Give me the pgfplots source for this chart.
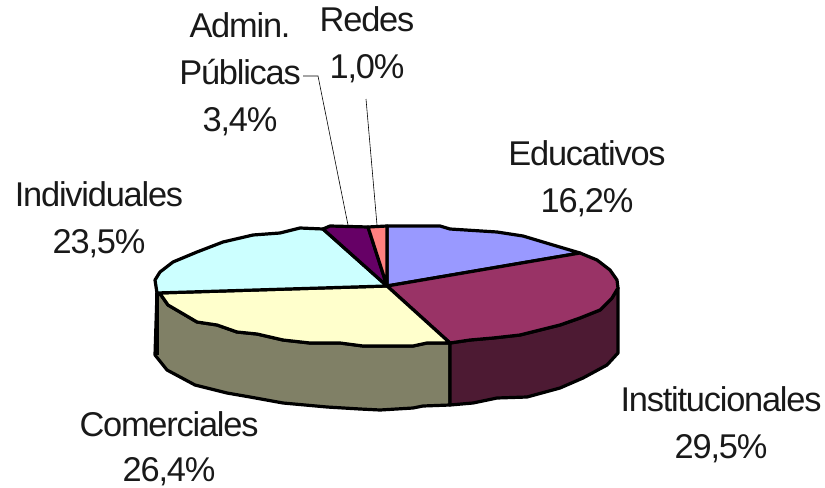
\documentclass[border=0pt]{standalone}
\usepackage{pgfplots}
\pgfplotsset{compat=1.18}
\usepackage{fontspec}
\setmainfont[LetterSpace=-3.5]{Liberation Sans}
\definecolor{edu}{HTML}{9999FF}
\definecolor{ins}{HTML}{993366}
\definecolor{insd}{HTML}{4D1A33}
\definecolor{com}{HTML}{FFFFCC}
\definecolor{comd}{HTML}{808066}
\definecolor{ind}{HTML}{CCFFFF}
\definecolor{adm}{HTML}{660066}
\definecolor{redes}{HTML}{FF8080}
\tikzset{lab/.style={font=\fontsize{34.5}{47}\selectfont, align=center, text=black!90, inner sep=0pt},
  face/.style={draw=black, line width=3.2bp, line join=round, no markers}}
\begin{document}
\begin{tikzpicture}
\useasboundingbox (0,0) rectangle (825bp,488bp);
\begin{axis}[
  at={(0,0)}, anchor=south west,
  scale only axis, width=825bp, height=488bp,
  xmin=0, xmax=825, ymin=0, ymax=488, y dir=reverse,
  hide axis, clip=false,
]
% sides
\addplot[face, fill=comd] coordinates {(157,293)(161,295)(168,305)(180,312)(197,322)(217,325)(237,332)(257,334)(283,340)(310,343)(340,343)(363,346)(400,346)(413,346)(427,343)(450,343)(450,405)(423,406)(413,408)(380,410)(360,409)(327,407)(283,403)(250,397)(227,393)(195,385)(167,370)(155,355)} -- cycle;
\addplot[face, fill=insd] coordinates {(450,343)(470,340)(493,338)(520,335)(540,330)(560,325)(580,318)(600,310)(612,298)(618,288)(618,353)(607,365)(583,378)(560,388)(527,397)(497,398)(473,403)(450,405)} -- cycle;
\addplot[face, line width=4.5bp] coordinates {(157,293)(157,355)};
% top faces
\addplot[face, fill=edu] coordinates {(387,286)(387,226)(440,226)(450,229)(497,232)(523,236)(553,245)(580,253)} -- cycle;
\addplot[face, fill=ins] coordinates {(387,286)(580,253)(597,260)(610,270)(617,280)(618,288)(612,298)(600,310)(580,318)(560,325)(540,330)(520,335)(493,338)(470,340)(450,343)} -- cycle;
\addplot[face, fill=com] coordinates {(387,286)(450,343)(427,343)(413,346)(400,346)(363,346)(340,343)(310,343)(283,340)(257,334)(237,332)(217,325)(197,322)(180,312)(168,305)(161,295)(157,293)} -- cycle;
\addplot[face, fill=ind] coordinates {(387,286)(157,293)(155,280)(160,272)(173,262)(197,252)(223,242)(253,235)(280,233)(300,228)(323,229)} -- cycle;
\addplot[face, fill=adm] coordinates {(387,286)(323,229)(330,226)(368,227)} -- cycle;
\addplot[face, fill=redes] coordinates {(387,286)(368,227)(387,226)} -- cycle;
% leader lines
\addplot[black, no markers, line width=0.6bp] coordinates {(303,76)(318,76)(348,225)};
\addplot[black, no markers, line width=0.6bp] coordinates {(366,99)(377,225)};
% labels
\node[lab] at (axis cs:367,45) {Redes\\1,0\%};
\node[lab] at (axis cs:240,74) {Admin.\\Públicas\\3,4\%};
\node[lab] at (axis cs:587,179) {Educativos\\16,2\%};
\node[lab] at (axis cs:99,220) {Individuales\\23,5\%};
\node[lab] at (axis cs:721,425) {Institucionales\\29,5\%};
\node[lab] at (axis cs:169,449) {Comerciales\\[-2bp]26,4\%};
\end{axis}
\end{tikzpicture}
\end{document}
